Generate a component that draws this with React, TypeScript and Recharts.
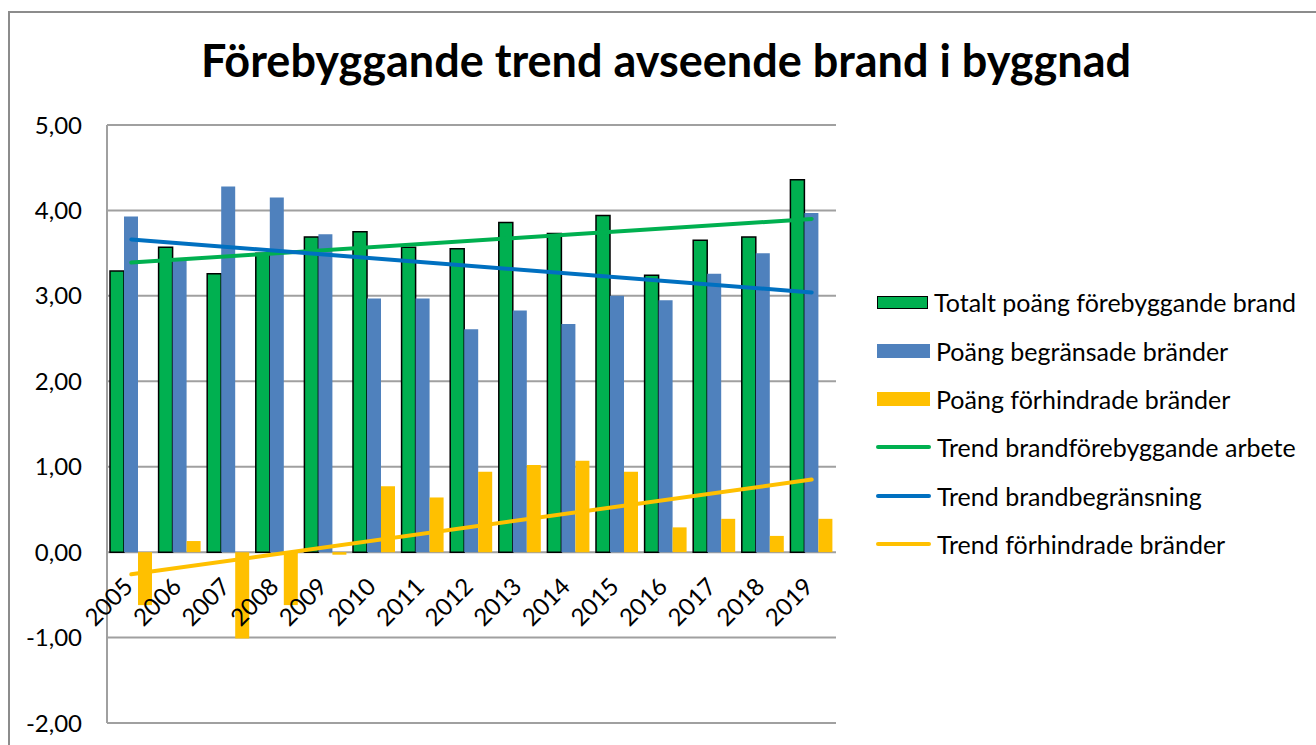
import React from "react"
import {
    ComposedChart,
    Bar,
    Line,
    XAxis,
    YAxis,
    CartesianGrid,
    LabelList,
} from "recharts"

const years = ["2005", "2006", "2007", "2008", "2009", "2010", "2011", "2012", "2013", "2014", "2015", "2016", "2017", "2018", "2019"]
const totalScore = [3.29, 3.57, 3.26, 3.5, 3.69, 3.75, 3.57, 3.55, 3.86, 3.73, 3.94, 3.24, 3.65, 3.69, 4.36]
const limitedScore = [3.93, 3.44, 4.28, 4.15, 3.72, 2.97, 2.97, 2.61, 2.83, 2.67, 3.0, 2.95, 3.26, 3.5, 3.97]
const preventedScore = [-0.62, 0.13, -1.01, -0.62, -0.03, 0.77, 0.64, 0.94, 1.02, 1.07, 0.94, 0.29, 0.39, 0.19, 0.39]
// trendlines, read at first and last year only
const trendTotal = [3.39, 3.9]
const trendLimited = [3.66, 3.04]
const trendPrevented = [-0.26, 0.85]
const yTicks = [-2, -1, 0, 1, 2, 3, 4, 5]

const last = years.length - 1
const data = years.map((year, i) => ({
    year,
    total: totalScore[i],
    limited: limitedScore[i],
    prevented: preventedScore[i],
    tTotal: i === 0 ? trendTotal[0] : i === last ? trendTotal[1] : null,
    tLimited: i === 0 ? trendLimited[0] : i === last ? trendLimited[1] : null,
    tPrevented: i === 0 ? trendPrevented[0] : i === last ? trendPrevented[1] : null,
    axis: 0,
}))

const legendItems = [
    { name: "Totalt poäng förebyggande brand", color: "#00B050", kind: "bar", border: true },
    { name: "Poäng begränsade bränder", color: "#4F81BD", kind: "bar" },
    { name: "Poäng förhindrade bränder", color: "#FFC000", kind: "bar" },
    { name: "Trend brandförebyggande arbete", color: "#00B050", kind: "line" },
    { name: "Trend brandbegränsning", color: "#0070C0", kind: "line" },
    { name: "Trend förhindrade bränder", color: "#FFC000", kind: "line" },
]

const font = "Lato, 'Open Sans', sans-serif"
const fmt = (v: number) => v.toFixed(2).replace(".", ",")

function YearLabel({ x, y, value }: any) {
    const ax = x + 3
    const ay = y + 36
    return (
        <text x={ax} y={ay} transform={`rotate(-45, ${ax}, ${ay})`} textAnchor="end" fontSize={24} fontFamily={font} fill="#000">
            {value}
        </text>
    )
}

export default function App() {
    return (
        <div style={{ position: "fixed", left: 0, top: 0, width: 1316, height: 745, overflow: "hidden", background: "#fff" }}>
            <div style={{ position: "absolute", left: 8, top: 11, width: 1400, height: 800, border: "2px solid #8c8c8c" }} />
            <div
                style={{
                    position: "absolute", left: 666, top: 38, transform: "translateX(-50%)", whiteSpace: "nowrap",
                    fontFamily: font, fontWeight: 700, fontSize: 45, lineHeight: "45px", color: "#000",
                }}
            >
                Förebyggande trend avseende brand i byggnad
            </div>
            <div style={{ position: "absolute", left: 0, top: 0 }}>
                <ComposedChart width={1316} height={745} data={data} margin={{ top: 125, right: 480, bottom: 22, left: 0 }} barGap={0} barSize={14}>
                    <CartesianGrid vertical={false} stroke="#a0a0a0" strokeWidth={2} />
                    <XAxis dataKey="year" hide />
                    <YAxis
                        domain={[-2, 5]}
                        ticks={yTicks}
                        width={107}
                        tickFormatter={fmt}
                        tickLine={false}
                        tickSize={0}
                        tickMargin={25}
                        axisLine={{ stroke: "#a0a0a0", strokeWidth: 2 }}
                        tick={{ fontSize: 24, fontFamily: font, fill: "#000" }}
                        interval={0}
                    />
                    <Bar dataKey="total" fill="#00B050" stroke="#000" strokeWidth={1.5} isAnimationActive={false} />
                    <Bar dataKey="limited" fill="#4F81BD" isAnimationActive={false} />
                    <Bar dataKey="prevented" fill="#FFC000" isAnimationActive={false} />
                    <Line dataKey="tTotal" stroke="#00B050" strokeWidth={4} strokeLinecap="round" dot={false} activeDot={false} connectNulls isAnimationActive={false} />
                    <Line dataKey="tLimited" stroke="#0070C0" strokeWidth={4} strokeLinecap="round" dot={false} activeDot={false} connectNulls isAnimationActive={false} />
                    <Line dataKey="tPrevented" stroke="#FFC000" strokeWidth={4} strokeLinecap="round" dot={false} activeDot={false} connectNulls isAnimationActive={false} />
                    <Line dataKey="axis" stroke="none" dot={false} activeDot={false} isAnimationActive={false}>
                        <LabelList dataKey="year" content={<YearLabel />} />
                    </Line>
                </ComposedChart>
            </div>
            <div style={{ position: "absolute", left: 876, top: 278, fontFamily: font, fontSize: 25, color: "#000" }}>
                {legendItems.map((item) => (
                    <div key={item.name} style={{ height: 48.4, display: "flex", alignItems: "center", whiteSpace: "nowrap" }}>
                        {item.kind === "bar" ? (
                            <span
                                style={{
                                    display: "inline-block", width: item.border ? 49 : 53, height: item.border ? 11 : 14, marginLeft: 1,
                                    background: item.color, border: item.border ? "1.5px solid #000" : "none",
                                }}
                            />
                        ) : (
                            <span style={{ display: "inline-block", width: 55, height: 4, borderRadius: 2, background: item.color }} />
                        )}
                        <span style={{ marginLeft: 6 }}>{item.name}</span>
                    </div>
                ))}
            </div>
        </div>
    )
}
